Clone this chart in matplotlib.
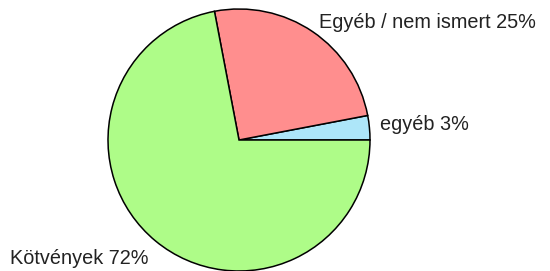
import matplotlib
matplotlib.use("Agg")
import matplotlib.pyplot as plt

categories = ["egyéb", "Egyéb / nem ismert", "Kötvények"]
shares = [3, 25, 72]
colors = ["#ade6f9", "#ff8e8e", "#aefc88"]

labels = [f"{c} {v}%" for c, v in zip(categories, shares)]

fig = plt.figure(figsize=(5.5, 2.71), dpi=100)
# pie centered at about (239, 140) px with radius ~131 px
ax = fig.add_axes([(239 - 131) / 550, (271 - 140 - 131) / 271, 262 / 550, 262 / 271])
wedges, texts = ax.pie(shares, labels=labels, colors=colors, startangle=0,
                       counterclock=True, labeldistance=1.08,
                       wedgeprops=dict(edgecolor="black", linewidth=1.1),
                       textprops=dict(fontsize=14.3, color="#222222",
                                      family="Liberation Sans"))

# small nudges so the labels sit where they do in the original
x, y = texts[0].get_position()
texts[0].set_position((x, y + 0.02))
x, y = texts[2].get_position()
texts[2].set_position((x, y - 0.07))

ax.set_xlim(-1.0, 1.0)
ax.set_ylim(-1.0, 1.0)
ax.set_aspect("equal")

fig.savefig("out.png", dpi=100)
